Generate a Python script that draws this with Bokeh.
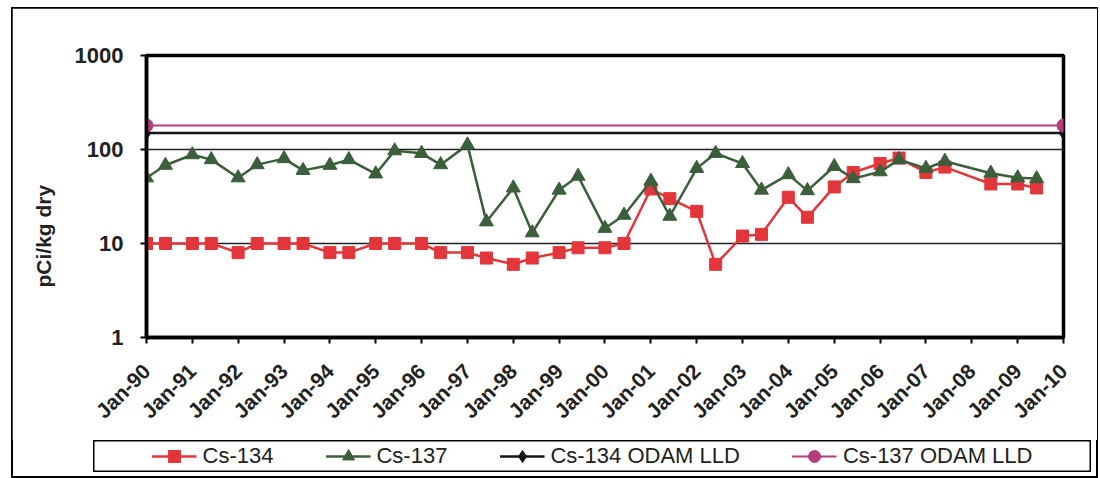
import pandas as pd
from math import pi
from bokeh.plotting import figure
from bokeh.layouts import column
from bokeh.models import (FixedTicker, Legend, LegendItem, Title,
                          Range1d, ColumnDataSource, DatetimeTickFormatter)
from bokeh.embed import file_html
from bokeh.resources import INLINE

# ---------------- data ----------------
sample_dates = [
    "1990-01-01", "1990-06-01", "1991-01-01", "1991-06-01", "1992-01-01", "1992-06-01",
    "1993-01-01", "1993-06-01", "1994-01-01", "1994-06-01", "1995-01-01", "1995-06-01",
    "1996-01-01", "1996-06-01", "1997-01-01", "1997-06-01", "1998-01-01", "1998-06-01",
    "1999-01-01", "1999-06-01", "2000-01-01", "2000-06-01", "2001-01-01", "2001-06-01",
    "2002-01-01", "2002-06-01", "2003-01-01", "2003-06-01", "2004-01-01", "2004-06-01",
    "2005-01-01", "2005-06-01", "2006-01-01", "2006-06-01", "2007-01-01", "2007-06-01",
    "2008-06-01", "2009-01-01", "2009-06-01",
]
cs134 = [10, 10, 10, 10, 8, 10,
         10, 10, 8, 8, 10, 10,
         10, 8, 8, 7, 6, 7,
         8, 9, 9, 10, 38, 30,
         22, 6, 12, 12.5, 31, 19,
         40, 57, 71, 81, 57, 65,
         43, 43, 39]
cs137 = [50, 68, 88, 78, 50, 69,
         80, 60, 68, 78, 55, 97,
         91, 69, 112, 17, 39, 13,
         37, 52, 14.5, 20, 46, 19.5,
         63, 91, 71, 37, 54, 36.5,
         66, 49, 58, 78, 63, 75,
         56, 50, 49]
lld_dates = ["1990-01-01", "2010-01-01"]
lld_cs134 = [150, 150]
lld_cs137 = [180, 180]
tick_years = list(range(1990, 2011))
tick_labels = ["Jan-%02d" % (y % 100) for y in tick_years]
y_ticks = [1, 10, 100, 1000]
y_tick_labels = ["1", "10", "100", "1000"]
series_names = ["Cs-134", "Cs-137", "Cs-134 ODAM LLD", "Cs-137 ODAM LLD"]

RED = "#E3363A"
GREEN = "#3B5E3B"
BLACK = "#151515"
MAGENTA = "#B53D7E"
TXT = "#222222"
FONT = "Liberation Sans"


def ms(d):
    return int(pd.Timestamp(d).value // 10**6)


tick_ms = [ms("%d-01-01" % y) for y in tick_years]

src = ColumnDataSource(dict(date=pd.to_datetime(sample_dates), cs134=cs134, cs137=cs137))
lld = ColumnDataSource(dict(date=pd.to_datetime(lld_dates), a=lld_cs134, b=lld_cs137))

# series: (name, source, y column, colour, marker, marker size, line width)
series = [
    (series_names[0], src, "cs134", RED, "square", 12, 2.5),
    (series_names[1], src, "cs137", GREEN, "triangle", 14, 2.5),
    (series_names[2], lld, "a", BLACK, "diamond", 13, 2.5),
    (series_names[3], lld, "b", MAGENTA, "circle", 13, 2),
]

# ---------------- main chart ----------------
p = figure(width=1085, height=432, x_axis_type="datetime", y_axis_type="log",
           x_range=Range1d(tick_ms[0], tick_ms[-1]), y_range=Range1d(1, 1000),
           output_backend="svg", toolbar_location=None,
           min_border_left=132, min_border_right=34, min_border_top=47, min_border_bottom=103)
p.frame_align = False

p.background_fill_color = "white"
p.border_fill_color = "white"
p.outline_line_color = "black"
p.outline_line_width = 3.5

p.xgrid.visible = False
p.ygrid.ticker = FixedTicker(ticks=[10, 100])
p.ygrid.grid_line_color = TXT
p.ygrid.grid_line_width = 1.5

xa = p.xaxis[0]
xa.ticker = FixedTicker(ticks=tick_ms)
xa.formatter = DatetimeTickFormatter(years="%b-%y", months="%b-%y", days="%b-%y")
xa.major_label_overrides = {t: l for t, l in zip(tick_ms, tick_labels)}
xa.major_label_orientation = pi / 4
xa.major_label_text_font = FONT
xa.major_label_text_font_style = "bold"
xa.major_label_text_font_size = "21px"
xa.major_label_text_color = TXT
xa.major_tick_out = 6
xa.major_tick_in = 0
xa.minor_tick_line_color = None
xa.axis_line_width = 3.5
xa.major_tick_line_width = 2
xa.major_label_standoff = 24

ya = p.yaxis[0]
ya.ticker = FixedTicker(ticks=y_ticks)
ya.major_label_overrides = {t: l for t, l in zip(y_ticks, y_tick_labels)}
ya.major_label_text_font = FONT
ya.major_label_text_font_style = "bold"
ya.major_label_text_font_size = "22px"
ya.major_label_text_color = TXT
ya.major_tick_out = 6
ya.major_tick_in = 0
ya.minor_tick_line_color = None
ya.axis_line_width = 3.5
ya.major_tick_line_width = 2
ya.major_label_standoff = 17

p.add_layout(Title(text="pCi/kg dry", align="left", offset=50, text_font=FONT,
                   text_font_style="bold", text_font_size="21px", text_color=TXT,
                   standoff=34), "left")

for name, source, col, c, mk, sz, lw in series:
    p.line("date", col, source=source, line_color=c, line_width=lw)
    p.scatter("date", col, source=source, marker=mk, size=sz, fill_color=c, line_color=c)

# ---------------- legend strip (its frame is the legend box) ----------------
lg = figure(width=998, height=32, x_range=Range1d(0, 1), y_range=Range1d(0, 1),
            output_backend="svg", toolbar_location=None,
            x_axis_location=None, y_axis_location=None, min_border=0,
            margin=(0, 0, 5, 81))
lg.frame_align = False
lg.grid.visible = False
lg.outline_line_color = "black"
lg.outline_line_width = 2
lg.background_fill_color = "white"
lg.border_fill_color = "white"

items = []
for name, source, col, c, mk, sz, lw in series:
    # same data as the chart; the strip's ranges keep the marks themselves out of view
    ll = lg.line("date", col, source=source, line_color=c, line_width=lw)
    mm = lg.scatter("date", col, source=source, marker=mk, fill_color=c, line_color=c)
    items.append(LegendItem(label=name, renderers=[ll, mm]))

legend = Legend(items=items, orientation="horizontal", location="center",
                glyph_width=45, glyph_height=30, label_standoff=6, spacing=52,
                padding=0, margin=0, border_line_alpha=0, background_fill_alpha=0,
                label_text_font=FONT, label_text_font_size="22px", label_text_color=TXT)
lg.add_layout(legend, "center")

layout = column(p, lg, spacing=0, margin=(8, 3, 1, 12),
                styles={"outline": "2px solid black", "outline-offset": "-1px"})

open("out.html", "w").write(file_html(layout, INLINE))
